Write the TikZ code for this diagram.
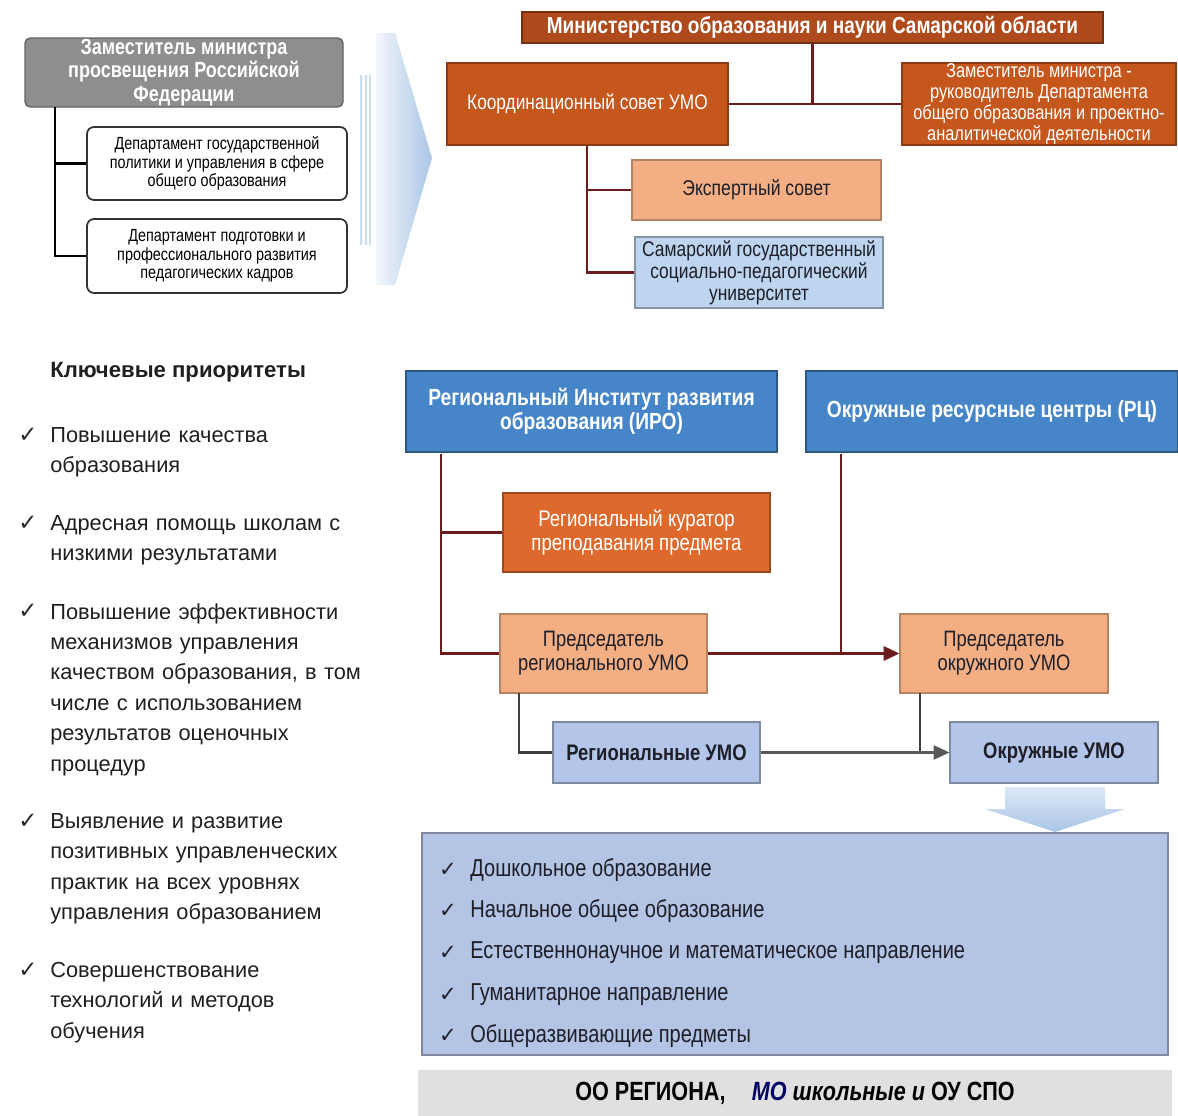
\documentclass[tikz,border=0pt]{standalone}
\usepackage{fontspec}
\setmainfont{Liberation Sans}
\newfontfamily\nar[FakeStretch=0.82]{Liberation Sans}
\newfontfamily\chkfont{DejaVu Sans}
\usetikzlibrary{arrows.meta}
\definecolor{mred}{HTML}{6B1C1C}
\definecolor{minic}{HTML}{AE4A1C}
\definecolor{coordc}{HTML}{C5561C}
\definecolor{curc}{HTML}{DD6A2C}
\definecolor{salm}{HTML}{F3AF83}
\definecolor{univc}{HTML}{BDD5EE}
\definecolor{iroc}{HTML}{4686C8}
\definecolor{umoc}{HTML}{B3C5E8}
\definecolor{lstc}{HTML}{B4C4E4}
\definecolor{gboxc}{HTML}{8E8E8E}
\definecolor{botc}{HTML}{E0E0E0}
\definecolor{arrc}{HTML}{A9C6E6}
\definecolor{txtd}{HTML}{1E1E28}
\newcommand\fz[2]{\fontsize{#1}{#2}\selectfont}
\tikzset{
  wh/.style 2 args={minimum width=#1*0.02cm, minimum height=#2*0.02cm},
  bx/.style={rectangle, inner sep=0pt, align=center},
  orangebox/.style={bx, fill=coordc, draw=coordc!70!black, line width=0.8pt, text=white, font=\nar\fz{12}{13.6}},
  salmbox/.style={bx, fill=salm, draw=salm!75!black, line width=0.6pt, text=txtd, font=\nar\fz{12.7}{13.6}},
  bluebox/.style={bx, fill=iroc, draw=iroc!65!black, line width=0.8pt, text=white, font=\nar\bfseries\fz{13.3}{13.8}},
  umobox/.style={bx, fill=umoc, draw=umoc!70!black, line width=0.6pt, text=txtd, font=\nar\bfseries\fz{12.8}{13.6}},
  deptbox/.style={bx, fill=white, draw=black!80, line width=1pt, rounded corners=4pt, text=black, font=\nar\fz{10}{10.5}},
  mlink/.style={draw=mred, line width=1.7pt},
  klink/.style={draw=black, line width=1.7pt},
  glink/.style={draw=black!75, line width=1.5pt},
  prio/.style={anchor=north west, inner sep=0pt, align=left, text width=340*0.02cm, text=black!88, font=\fz{12.4}{17.3}},
  chk/.style={anchor=center, inner sep=0pt, font=\chkfont\fz{13}{14}, text=black!85},
  litem/.style={anchor=west, inner sep=0pt, text=txtd, font=\nar\fz{13.9}{15}},
}
\begin{document}
\begin{tikzpicture}[x=0.02cm, y=-0.02cm]
\useasboundingbox (0,0) rectangle (1178,1116);
% ---------- left federal block ----------
\node[bx, wh={318}{69}, fill=gboxc, draw=gboxc!70!black, line width=0.8pt, rounded corners=3pt, text=white, font=\nar\bfseries\fz{12.5}{13.3}] (fed) at (184,72.5) {Заместитель министра\\просвещения Российской\\Федерации};
\node[deptbox, wh={260}{73}] (dep1) at (217,163.5) {Департамент государственной\\политики и управления в сфере\\общего образования};
\node[deptbox, wh={260}{74}] (dep2) at (217,256) {Департамент подготовки и\\профессионального развития\\педагогических кадров};
\coordinate (ft) at (55,107);
\draw[klink] (ft) -- (ft |- dep2.west) -- (dep2.west);
\draw[klink] (ft |- dep1.west) -- (dep1.west);
% ---------- big chevron ----------
\foreach \xx in {360,364.5,369}
  \fill[arrc!60] (\xx,75) rectangle (\xx+2.2,245);
\shade[left color=arrc!15, right color=arrc] (376,33) -- (395,33) -- (432,158) -- (395,285) -- (376,285) -- cycle;
% ---------- regional upper block ----------
\node[bx, wh={581}{31}, fill=minic, draw=minic!65!black, line width=0.8pt, text=white, font=\nar\bfseries\fz{13.2}{14}] (min) at (812.5,27.5) {Министерство образования и науки Самарской области};
\node[orangebox, wh={281}{82}] (coord) at (587.5,104) {Координационный совет УМО};
\node[orangebox, wh={274}{82}, font=\nar\fz{11.4}{11.9}] (dept) at (1039,104) {Заместитель министра -\\руководитель Департамента\\общего образования и проектно-\\аналитической деятельности};
\draw[mlink] (min.south) -- (min.south |- coord.east);
\draw[mlink] (coord.east) -- (dept.west);
\node[salmbox, wh={249}{60}, font=\nar\fz{12.2}{13}] (exp) at (756.5,190) {Экспертный совет};
\node[bx, wh={248}{71}, fill=univc, draw=univc!70!black, line width=0.6pt, text=txtd, font=\nar\fz{12.1}{12.5}] (univ) at (759,272.5) {Самарский государственный\\социально-педагогический\\университет};
\coordinate (ct) at (587,146);
\draw[mlink] (ct) -- (ct |- univ.west) -- (univ.west);
\draw[mlink] (ct |- exp.west) -- (exp.west);
% ---------- priorities ----------
\node[anchor=west, inner sep=0pt, font=\bfseries\fz{12.6}{14}, text=black!88] (ptitle) at (50,372) {Ключевые приоритеты};
\node[prio] (p1) at (50,427) {Повышение качества\\образования};
\node[chk] (c1) at (28,435) {✓};
\node[prio] (p2) at (50,515) {Адресная помощь школам с\\низкими результатами};
\node[chk] (c2) at (28,523) {✓};
\node[prio] (p3) at (50,603) {Повышение эффективности\\механизмов управления\\качеством образования, в том\\числе с использованием\\результатов оценочных\\процедур};
\node[chk] (c3) at (28,611) {✓};
\node[prio] (p4) at (50,813) {Выявление и развитие\\позитивных управленческих\\практик на всех уровнях\\управления образованием};
\node[chk] (c4) at (28,821) {✓};
\node[prio] (p5) at (50,962) {Совершенствование\\технологий и методов\\обучения};
\node[chk] (c5) at (28,970) {✓};
% ---------- middle block ----------
\node[bluebox, wh={371}{81}] (iro) at (591.5,411.5) {Региональный Институт развития\\образования (ИРО)};
\node[bluebox, wh={372}{81}] (rc) at (992,411.5) {Окружные ресурсные центры (РЦ)};
\node[orangebox, wh={267}{79}, fill=curc, draw=curc!70!black, font=\nar\fz{12.9}{13.6}] (cur) at (636.5,532.5) {Региональный куратор\\преподавания предмета};
\node[salmbox, wh={207}{79}] (chr) at (603.5,653.5) {Председатель\\регионального УМО};
\node[salmbox, wh={208}{79}] (chd) at (1004,653.5) {Председатель\\окружного УМО};
\node[umobox, wh={207}{61}] (umr) at (656.5,752.5) {Региональные УМО};
\node[umobox, wh={208}{61}] (umd) at (1054,752.5) {Окружные УМО};
\coordinate (it) at (441,454);
\draw[mlink] (it) -- (it |- chr.west) -- (chr.west);
\draw[mlink] (it |- cur.west) -- (cur.west);
\coordinate (rt) at (841,454);
\draw[mlink] (rt) -- (rt |- chr.east);
\draw[mlink, -{Triangle[length=9pt,width=8pt]}] (chr.east) -- (chd.west);
\coordinate (crb) at (519,693);
\draw[glink] (crb) -- (crb |- umr.west) -- (umr.west);
\coordinate (cdb) at (920,693);
\draw[glink] (cdb) -- (cdb |- umd.west);
\draw[draw=black!65, line width=1.3pt, -{Triangle[length=9pt,width=8pt]}] (umr.east) -- (umd.west);
% ---------- down arrow ----------
\shade[top color=arrc!40, bottom color=arrc] (1005,787) -- (1105,787) -- (1105,809) -- (1125,809) -- (1055,832) -- (985,809) -- (1005,809) -- cycle;
% ---------- list box ----------
\node[bx, wh={746}{222}, fill=lstc, draw=lstc!70!black, line width=0.8pt] (lst) at (795,944) {};
\foreach \yy/\tt in {870/{Дошкольное образование},911/{Начальное общее образование},953/{Естественнонаучное и математическое направление},995/{Гуманитарное направление},1036/{Общеразвивающие предметы}}{
  \node[chk, font=\chkfont\fz{12}{13}, text=txtd] at (448,\yy) {✓};
  \node[litem] at (470,\yy) {\tt};
}
% ---------- bottom bar ----------
\node[bx, wh={754}{46}, fill=botc, font=\nar\bfseries\fz{15}{16}, text=black] (bot) at (795,1093) {ОО РЕГИОНА,\quad \textit{\textcolor{blue!40!black}{МО} школьные и} ОУ СПО};
\end{tikzpicture}
\end{document}
